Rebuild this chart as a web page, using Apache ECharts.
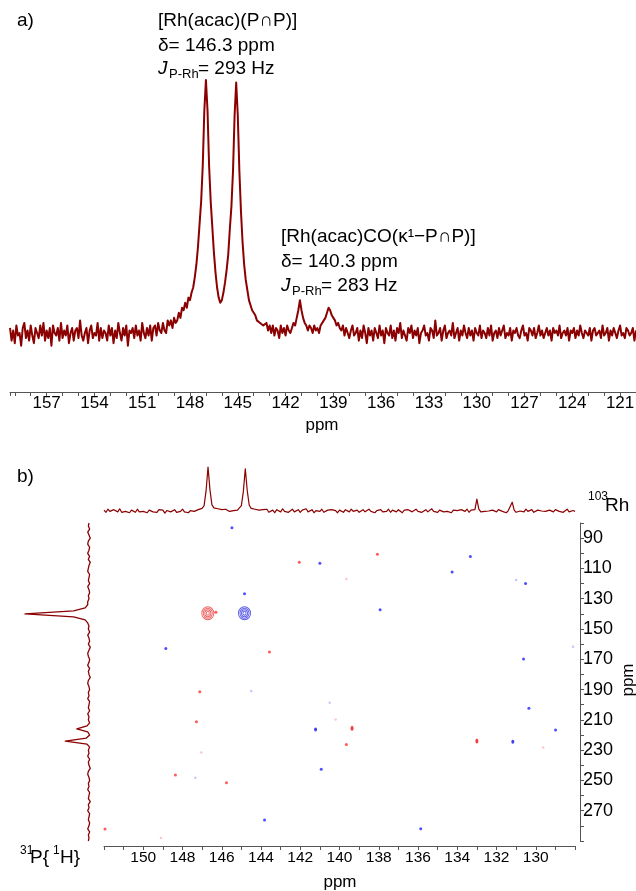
<!DOCTYPE html>
<html><head><meta charset="utf-8">
<script src="https://cdn.jsdelivr.net/npm/echarts@6/dist/echarts.min.js"></script>
<style>html,body{margin:0;padding:0;background:#fff}#c{width:636px;height:891px}</style>
</head><body><div id="c"></div>
<script>
// ---------- Panel a: 31P{1H} spectrum, read every 0.1 ppm from 159.3 ppm downwards ----------
const aStartPpm = 159.3;
const aStepPpm = 0.1;
const specA = [
 2,-3,1,-4,3,-1,0,-5,2,4,-2,1,-3,3,-1,-4,2,0,-2,3,
 -1,4,-3,1,-2,2,-5,3,0,-1,2,-3,4,-2,1,-1,3,-4,0,2,
 -3,1,2,-2,5,-1,-3,0,2,-4,1,3,-2,0,-1,4,-3,2,-2,1,
 0,-3,3,-1,2,-4,1,-2,4,0,-3,2,-1,3,-5,1,0,2,-2,3,
 -1,1,-3,4,0,-2,2,-1,3,-3,2,3,-1,4,1,0,4,1,0,5,
 3,5,2,6,4,5,8,6,10,9,12,10,14,13,16,18,22,27,34,43,
 52,66,88,100,88,66,52,42,32,24,18,14,12,13,16,20,25,31,41,50,
 64,86,99,86,64,48,36,27,21,17,13,11,9,8,7,5,5,4,4,3,
 3,4,1,3,0,3,-1,2,1,-2,3,0,2,-1,3,1,0,2,4,3,
 6,9,13,9,6,4,3,1,3,2,0,3,1,2,0,3,3,5,6,8,
 10,9,7,6,5,3,4,2,1,3,-1,2,0,-2,1,3,-1,0,2,-3,
 1,-2,3,0,-4,2,-1,1,-3,2,0,-2,3,-1,1,-4,2,0,-1,3,
 -2,1,-3,2,0,4,-2,1,-1,-3,2,0,3,-2,1,-1,2,-4,0,1,
 3,-1,0,-3,2,1,-2,5,-1,0,2,-3,1,3,-2,0,1,-1,4,-2,
 0,2,-3,1,-1,3,0,-2,2,-1,1,-3,2,0,-1,3,-2,1,0,-2,
 2,-1,3,-3,0,1,-2,2,-1,1,3,-2,0,-1,2,-3,1,0,2,-1,
 -2,1,3,-1,0,-3,2,1,-1,2,-2,0,3,-1,1,-2,0,2,-1,1,
 -3,2,0,1,-1,3,-2,0,1,-1,2,-3,1,0,2,-2,1,-1,3,0,
 -2,1,0,-1,2,-3,1,2,-1,0,1,-2,3,-1,0,2,-3,1,-1,2,
 0,-2,1,3,-1,0,-2,2,1,-1,0,2,-3,1
];
const aTickLabels = [157,154,151,148,145,142,139,136,133,130,127,124,121];

// ---------- Panel b: top projection, read every 0.1 ppm from 152 ppm downwards ----------
const bTopStartPpm = 152;
const bTopStepPpm = 0.1;
const specBTop = [
 2,-3,4,-1,-4,3,0,-2,5,-3,1,-1,3,-4,2,0,-3,4,-2,1,
 -1,3,-4,2,5,-2,0,-3,3,-1,2,-5,1,4,-2,0,3,-3,1,-1,
 4,-2,2,-4,1,3,-1,0,3,5,6,12,45,100,48,14,7,4,5,2,
 3,0,4,2,-1,3,1,4,2,6,12,44,96,46,13,6,3,4,0,2,
 -2,3,-1,4,-3,1,2,-4,3,0,-2,5,-1,2,-3,1,4,-2,0,3,
 -3,2,-1,5,-2,0,3,-4,1,2,-1,4,-3,0,2,-2,3,-1,1,-4,
 2,0,-3,3,1,-2,4,-1,0,2,-3,1,3,-2,0,4,-1,2,-4,1,
 0,3,-2,1,-1,4,-3,2,0,-2,3,1,-4,2,-1,3,0,-2,1,4,
 -1,2,-3,0,3,-2,1,5,-1,0,-3,2,4,-2,1,-1,3,-4,2,0,
 1,-2,3,0,-1,4,-3,2,1,3,27,4,-2,1,-1,3,0,-3,2,1,
 -2,3,0,-1,2,-4,1,3,20,2,-3,1,0,2,-2,4,-1,0,3,-3,
 1,2,-2,0,3,-1,-4,2,1,-2,3,0,-1,2,-3,1,4,-2,0,1,-1
];

// ---------- Panel b: left projection, read every 2 ppm from 80 ppm downwards ----------
const bLeftStartPpm = 80;
const bLeftStepPpm = 2;
const specBLeft = [
 0,1,-1,2,0,-2,1,2,-1,0,2,-1,1,-2,0,1,2,-1,0,1,
 -1,2,0,-1,1,0,2,2,6,24,100,24,6,2,0,1,-1,2,0,-1,
 1,-2,0,2,1,-1,0,2,-1,1,0,-2,1,2,0,-1,1,0,2,-1,
 0,1,-1,2,0,1,-1,3,19,2,-1,4,37,3,-1,1,0,2,-1,1,
 0,-2,1,2,0,-1,1,0,2,-1,0,1,-2,1,0,2,-1,0,1,-1,
 0,2,-1,1,0,1
];

// ---------- Panel b: 2D map [P ppm, Rh ppm] ----------
const crossRed = [[146.71, 139.6]];
const crossBlue = [[144.84, 139.6]];
const dotsRed = [[142.05,106],[146.3,139],[143.57,165.2],[147.12,191.4],[147.29,211.2],[148.36,246.4],[145.76,251.5],[151.95,282.1],[138.07,100.7],[139.65,226.2]];
const dotsRedStrong = [[139.36,215.6],[133.0,224.0]];
const dotsRedFaint = [[147.04,231.5],[149.1,288],[140.2,209.7],[139.65,117.0],[129.62,228.2]];
const dotsBlue = [[145.48,83.1],[141.0,106.6],[144.84,126.7],[148.85,162.8],[143.82,276.2],[133.33,102.2],[134.26,112.4],[130.52,119.9],[137.93,137.3],[130.62,169.8],[130.35,202.4],[128.99,216.7],[140.93,242.7],[135.86,281.9]];
const dotsBlueStrong = [[141.22,216.3],[131.17,224.4]];
const dotsBlueFaint = [[144.5,191],[147.34,248.2],[131.0,117.6],[128.1,161.7],[140.5,198.7]];
const bTickLabelsX = [150,148,146,144,142,140,138,136,134,132,130];
const bTickLabelsY = [90,110,130,150,170,190,210,230,250,270];

// ---------- build ----------
const FONT = '"Liberation Sans", Arial, sans-serif';
const SPEC = '#8b0000';
const AX = '#555';

const dataA = specA.map((v, i) => [+(aStartPpm - aStepPpm * i).toFixed(2), v]);
const dataBTop = specBTop.map((v, i) => [+(bTopStartPpm - bTopStepPpm * i).toFixed(2), v]);
const dataBLeft = specBLeft.map((v, i) => [v, bLeftStartPpm + bLeftStepPpm * i]);

const inList = (list, v) => list.some(t => Math.abs(t - v) < 1e-6);

const lineSeries = (data, xi, yi, w) => ({
  type: 'line', data, xAxisIndex: xi, yAxisIndex: yi, showSymbol: false, symbol: 'none',
  lineStyle: { color: SPEC, width: w, join: 'round' }, clip: false, animation: false, z: 3
});
const dotSeries = (data, color, size) => ({
  type: 'scatter', data, xAxisIndex: 2, yAxisIndex: 2, symbol: 'circle', symbolSize: size,
  itemStyle: { color }, animation: false, silent: true
});
const ringSeries = (data, color, size) => ({
  type: 'scatter', data, xAxisIndex: 2, yAxisIndex: 2, symbol: 'circle', symbolSize: size,
  itemStyle: { color: 'rgba(0,0,0,0)', borderColor: color, borderWidth: 1 }, animation: false, silent: true
});

const series = [
  lineSeries(dataA, 0, 0, 2),
  lineSeries(dataBTop, 1, 1, 1.2),
  lineSeries(dataBLeft, 3, 3, 1.3),
  dotSeries(dotsRed, '#ff3030', 3),
  dotSeries(dotsRedStrong, '#ee1010', [3, 5]),
  dotSeries(dotsRedFaint, '#ffb8b8', 2.5),
  dotSeries(dotsBlue, '#2222ff', 3),
  dotSeries(dotsBlueStrong, '#1010ee', [3, 4]),
  dotSeries(dotsBlueFaint, '#b8b8ff', 2.5)
];
[[12,13],[9,10],[6,7],[3,4]].forEach(s => {
  series.push(ringSeries(crossRed, '#e84040', s));
  series.push(ringSeries(crossBlue, '#3535e0', s));
});

const txt = (text, x, y, size, opts = {}) => ({
  type: 'text', x, y, rotation: opts.rotation || 0, silent: true,
  style: {
    text, fill: '#000', fontSize: size, fontFamily: FONT, fontStyle: opts.italic ? 'italic' : 'normal',
    align: opts.align || 'left', verticalAlign: 'middle',
    textAlign: opts.align || 'left', textVerticalAlign: 'middle'
  }
});

const graphic = [
  txt('a)', 17, 21, 19),
  txt('[Rh(acac)(P\u2229P)]', 158, 21, 19),
  txt('\u03b4= 146.3 ppm', 158, 46, 19),
  txt('J', 158, 69, 19, { italic: true }),
  txt('P-Rh', 169, 74, 13),
  txt('= 293 Hz', 198, 69, 19),
  txt('[Rh(acac)CO(\u03ba\u00b9\u2212P\u2229P)]', 281, 237, 19),
  txt('\u03b4= 140.3 ppm', 281, 262, 19),
  txt('J', 281, 286, 19, { italic: true }),
  txt('P-Rh', 292, 291, 13),
  txt('= 283 Hz', 321, 286, 19),
  txt('ppm', 322, 425, 17, { align: 'center' }),
  txt('b)', 17, 477, 19),
  txt('103', 588, 497, 12),
  txt('Rh', 605, 506, 19),
  txt('31', 20, 851, 12),
  txt('P{', 30, 858, 19),
  txt('1', 53, 851, 12),
  txt('H}', 60, 858, 19),
  txt('ppm', 340, 882, 17, { align: 'center' }),
  txt('ppm', 628, 680, 17, { align: 'center', rotation: Math.PI / 2 })
];

const gridBase = { containLabel: false, outerBoundsMode: 'none', show: false };
const option = {
  animation: false,
  backgroundColor: '#fff',
  grid: [
    Object.assign({ left: 10, right: 0, top: 80, bottom: 499 }, gridBase),
    Object.assign({ left: 104, right: 61, top: 460, height: 60 }, gridBase),
    Object.assign({ left: 104, right: 61, top: 523, bottom: 50 }, gridBase),
    Object.assign({ left: 15, width: 80, top: 523, bottom: 50 }, gridBase)
  ],
  xAxis: [
    {
      gridIndex: 0, type: 'value', min: 120, max: 159.3, interval: 1, inverse: true,
      axisLine: { show: true, onZero: false, lineStyle: { color: AX, width: 1 } },
      axisTick: { show: true, length: 4, lineStyle: { color: AX } },
      splitLine: { show: false },
      axisLabel: {
        interval: 0, margin: 3, fontSize: 17, fontFamily: FONT, color: '#000',
        showMinLabel: true, showMaxLabel: true, hideOverlap: false,
        formatter: v => inList(aTickLabels, v) ? String(Math.round(v)) : ''
      }
    },
    { gridIndex: 1, type: 'value', min: 128, max: 152, inverse: true, show: false },
    {
      gridIndex: 2, type: 'value', min: 128, max: 152, interval: 1, inverse: true, offset: 5,
      axisLine: { show: true, onZero: false, lineStyle: { color: AX, width: 1 } },
      axisTick: { show: true, length: 4, lineStyle: { color: AX } },
      splitLine: { show: false },
      axisLabel: {
        interval: 0, margin: 4, fontSize: 15.5, fontFamily: FONT, color: '#000',
        showMinLabel: true, showMaxLabel: true, hideOverlap: false,
        formatter: v => inList(bTickLabelsX, v) ? String(Math.round(v)) : ''
      }
    },
    { gridIndex: 3, type: 'value', min: -9.4, max: 115.6, inverse: true, show: false }
  ],
  yAxis: [
    { gridIndex: 0, type: 'value', min: -23.3, max: 100, show: false },
    { gridIndex: 1, type: 'value', min: -20.5, max: 115.9, show: false },
    {
      gridIndex: 2, type: 'value', min: 80, max: 290, interval: 10, inverse: true,
      position: 'right', offset: 5,
      axisLine: { show: true, onZero: false, lineStyle: { color: AX, width: 1 } },
      axisTick: { show: true, length: 4, lineStyle: { color: AX } },
      splitLine: { show: false },
      axisLabel: {
        interval: 0, margin: 3, fontSize: 18, fontFamily: FONT, color: '#000',
        showMinLabel: true, showMaxLabel: true, hideOverlap: false,
        formatter: v => inList(bTickLabelsY, v) ? String(Math.round(v)) : ''
      }
    },
    { gridIndex: 3, type: 'value', min: 80, max: 290, inverse: true, show: false }
  ],
  series,
  graphic
};

const chart = echarts.init(document.getElementById('c'), null, { renderer: 'canvas' });
chart.setOption(option);
</script>
</body></html>
